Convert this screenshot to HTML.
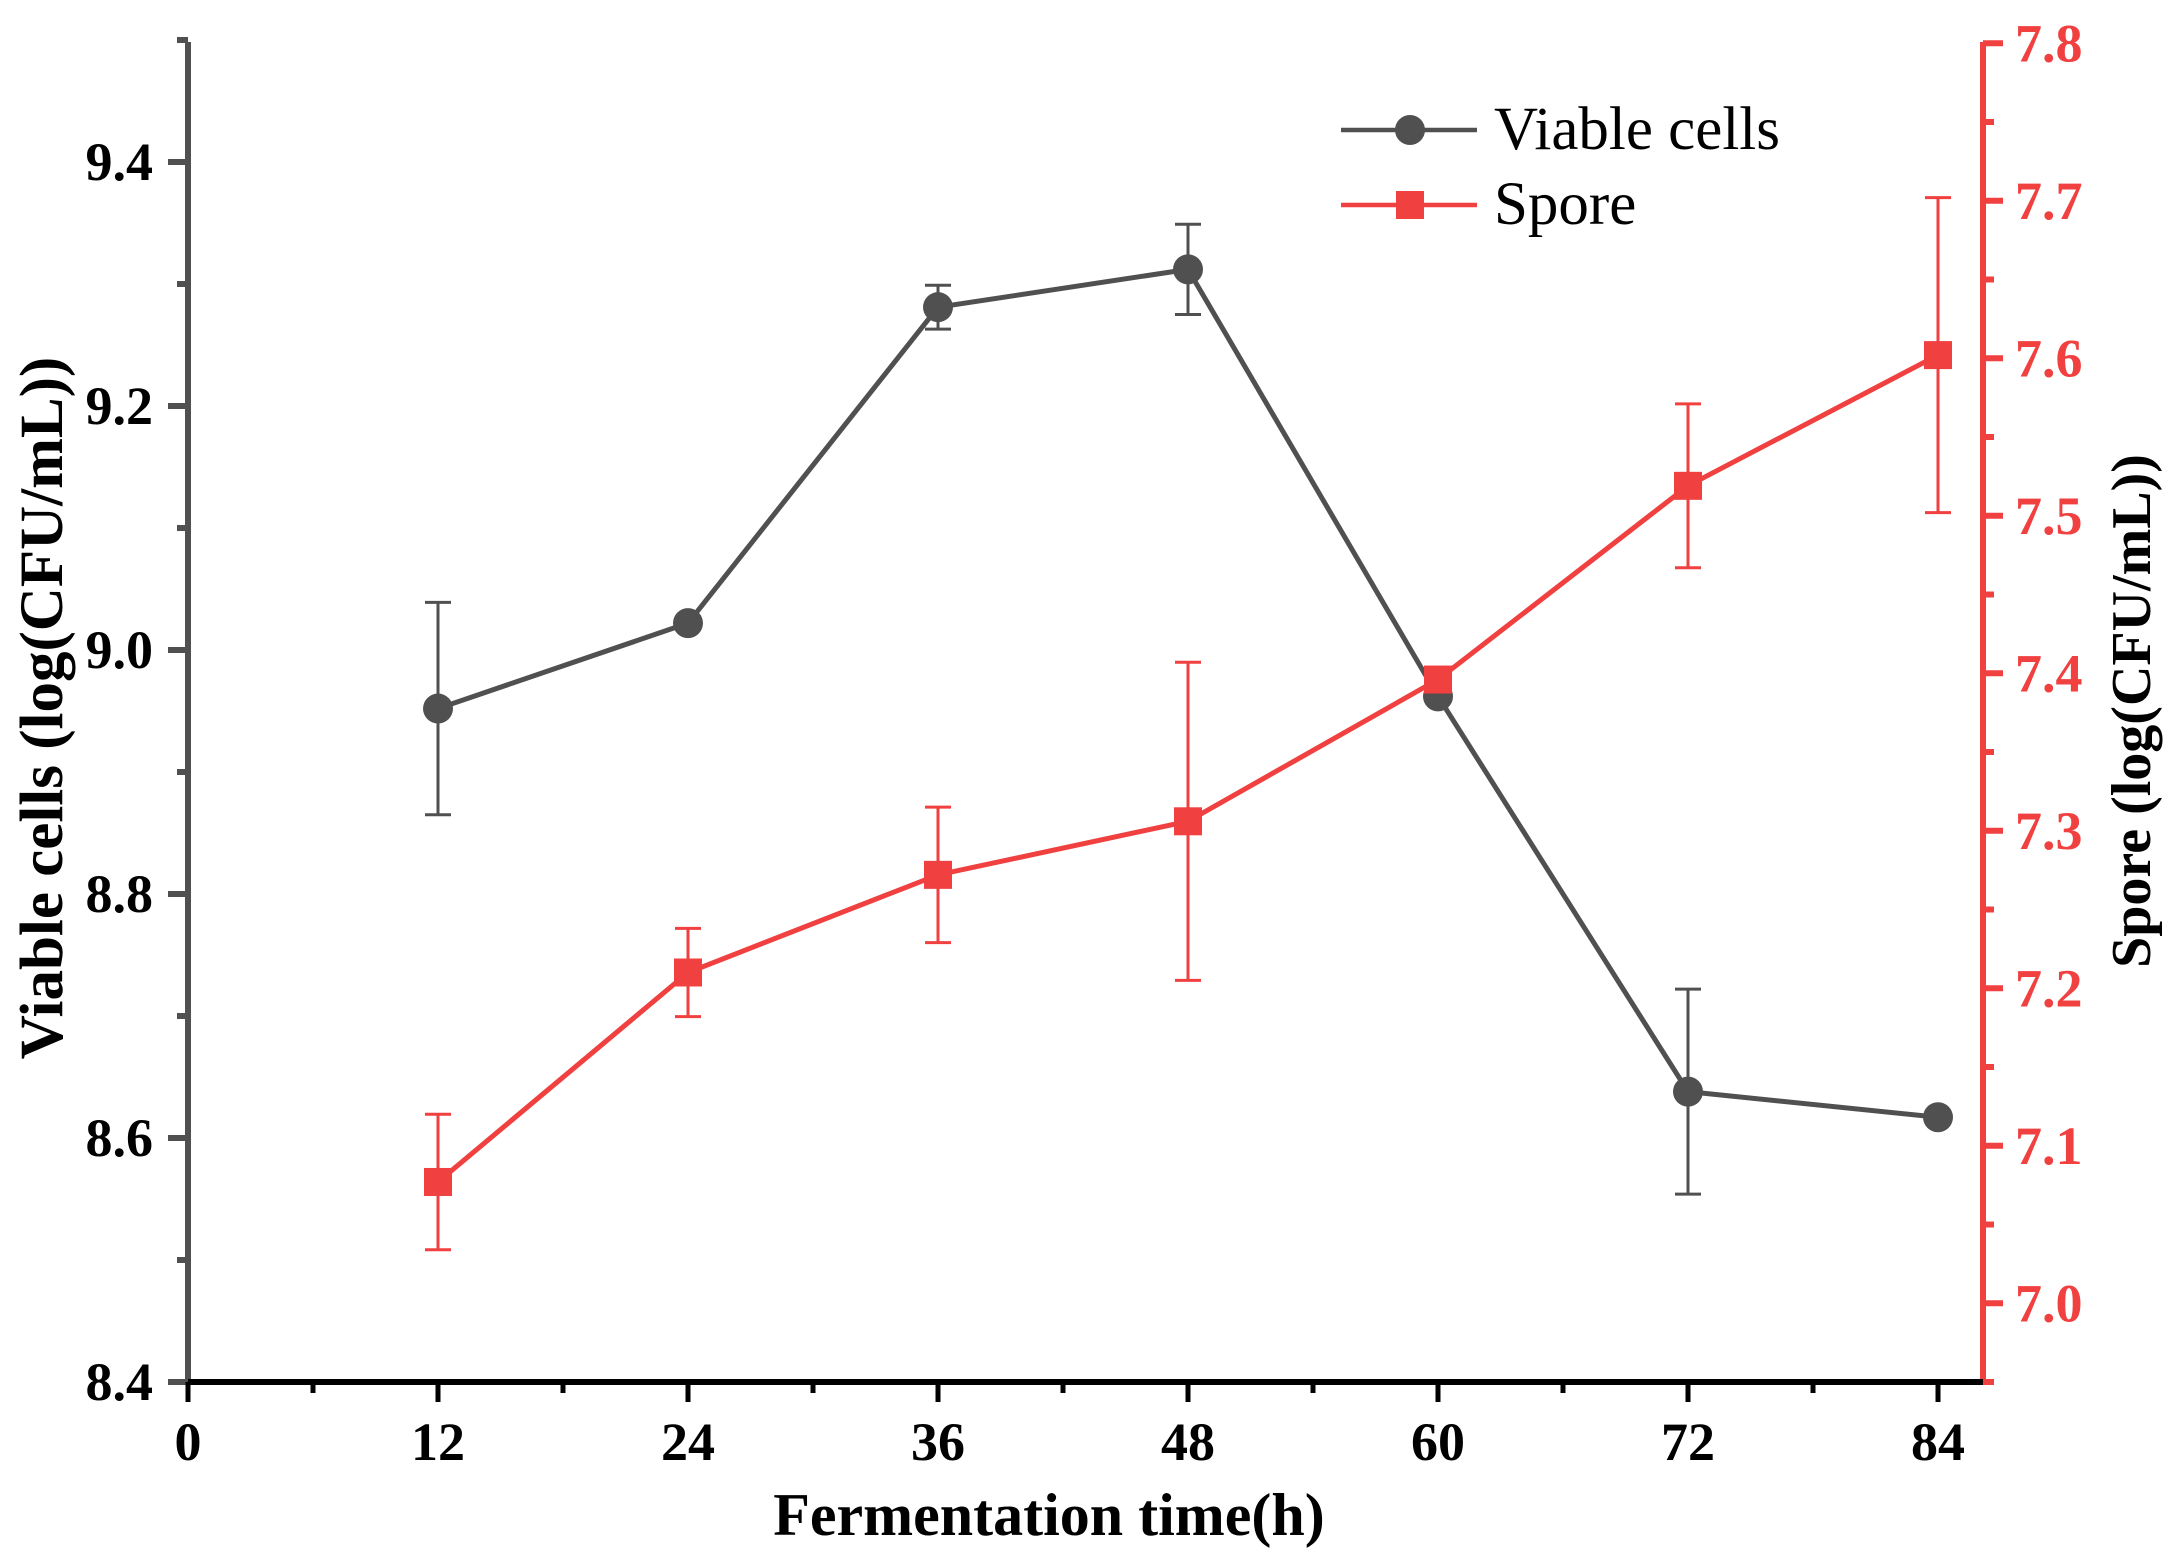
<!DOCTYPE html>
<html><head><meta charset="utf-8"><style>
html,body{margin:0;padding:0;background:#fff;}
svg{display:block;font-family:"Liberation Serif",serif;}
</style></head><body>
<svg id="chart" width="2173" height="1557" viewBox="0 0 2173 1557" xmlns="http://www.w3.org/2000/svg"></svg>
<script>
const hours = [12, 24, 36, 48, 60, 72, 84];
const viable = [8.952, 9.022, 9.281, 9.312, 8.962, 8.638, 8.617];
const viableErr = [0.087, 0.005, 0.018, 0.037, 0.003, 0.084, 0.003];
const spore = [7.077, 7.210, 7.272, 7.306, 7.396, 7.519, 7.602];
const sporeErr = [0.043, 0.028, 0.043, 0.101, 0.005, 0.052, 0.100];
const xTicks = [0, 12, 24, 36, 48, 60, 72, 84];
const leftTicks = ["8.4", "8.6", "8.8", "9.0", "9.2", "9.4"];
const rightTicks = ["7.0", "7.1", "7.2", "7.3", "7.4", "7.5", "7.6", "7.7", "7.8"];

const NS = "http://www.w3.org/2000/svg";
const svg = document.getElementById("chart");
const X0 = 188, X1 = 1983, Y0 = 1382, Y1 = 42;
const xs = h => X0 + h * (250 / 12);
const yl = v => Y0 - (v - 8.4) * 1220;
const yr = v => Y0 - (v - 6.95) * 1575;
const GRAY = "#505050", RED = "#f04040";
function mk(tag, attrs, parent) {
  const e = document.createElementNS(NS, tag);
  for (const k in attrs) e.setAttribute(k, attrs[k]);
  (parent || svg).appendChild(e);
  return e;
}
function line(x1, y1, x2, y2, c, w, name) {
  const e = mk("line", {x1, y1, x2, y2, stroke: c, "stroke-width": w});
  
  
  return e;
}
function text(x, y, s, attrs, name) {
  const e = mk("text", Object.assign({x, y}, attrs));
  e.textContent = s;
  
  
  return e;
}
// axes
line(X0, Y1, X0, Y0 + 2, GRAY, 6, "left-axis");
line(X1, Y1, X1, Y0 + 2, RED, 6, "right-axis");
line(X0 - 3, Y0, X1 + 3, Y0, "#000", 6, "x-axis");
// left ticks
for (let i = 0; i <= 11; i++) {
  const v = 8.4 + i * 0.1, y = yl(v), major = i % 2 === 0;
  line(X0 - (major ? 20 : 11), y, X0, y, GRAY, 6, major ? "left-major-tick" : "left-minor-tick");
}
leftTicks.forEach(t => text(153, yl(parseFloat(t)) + 18, t, {"font-size": 54, "font-weight": "bold", "text-anchor": "end", fill: "#000"}, "left-tick-label"));
// right ticks
for (let i = 0; i <= 16; i++) {
  const v = 7.0 + i * 0.05, y = yr(v), major = i % 2 === 0;
  line(X1, y, X1 + (major ? 20 : 11), y, RED, 6, major ? "right-major-tick" : "right-minor-tick");
}
line(X1, yr(6.95), X1 + 11, yr(6.95), RED, 6, "right-minor-tick");
rightTicks.forEach(t => text(2015, yr(parseFloat(t)) + 18, t, {"font-size": 54, "font-weight": "bold", fill: RED}, "right-tick-label"));
// x ticks
for (let h = 0; h <= 84; h += 6) {
  const major = h % 12 === 0;
  line(xs(h), Y0, xs(h), Y0 + (major ? 20 : 11), "#000", 5, major ? "x-major-tick" : "x-minor-tick");
}
xTicks.forEach(h => text(xs(h), 1460, String(h), {"font-size": 54, "font-weight": "bold", "text-anchor": "middle", fill: "#000"}, "x-tick-label"));
// titles
text(1049, 1535, "Fermentation time(h)", {"font-size": 60, "font-weight": "bold", "text-anchor": "middle", fill: "#000"}, "x-axis-title");
text(0, 0, "Viable cells (log(CFU/mL))", {"font-size": 61, "font-weight": "bold", "text-anchor": "middle", fill: "#000", transform: "translate(62,708) rotate(-90)"}, "left-axis-title");
text(0, 0, "Spore (log(CFU/mL))", {"font-size": 56, "font-weight": "bold", "text-anchor": "middle", fill: "#000", transform: "translate(2150,711) rotate(-90)"}, "right-axis-title");
// series
function series(vals, errs, yf, color, shape, name) {
  const pts = hours.map((h, i) => xs(h) + "," + yf(vals[i])).join(" ");
  const pl = mk("polyline", {points: pts, fill: "none", stroke: color, "stroke-width": 5});
  
  
  hours.forEach((h, i) => {
    const x = xs(h), yt = yf(vals[i] + errs[i]), yb = yf(vals[i] - errs[i]);
    line(x, yt, x, yb, color, 3, name + "-error-bar");
    line(x - 13, yt, x + 13, yt, color, 3, name + "-error-cap");
    line(x - 13, yb, x + 13, yb, color, 3, name + "-error-cap");
    let m;
    if (shape === "circle") m = mk("circle", {cx: x, cy: yf(vals[i]), r: 15, fill: color});
    else m = mk("rect", {x: x - 14, y: yf(vals[i]) - 14, width: 28, height: 28, fill: color});
    
    
  });
}
series(viable, viableErr, yl, GRAY, "circle", "viable-cells");
series(spore, sporeErr, yr, RED, "square", "spore");
// legend
line(1341, 130, 1477, 130, GRAY, 4.5, "legend-viable-line");
let c = mk("circle", {cx: 1410, cy: 130, r: 15, fill: GRAY});


text(1494, 149, "Viable cells", {"font-size": 61, fill: "#000"}, "legend-viable-label");
line(1341, 205, 1477, 205, RED, 4.5, "legend-spore-line");
let r = mk("rect", {x: 1396, y: 191, width: 28, height: 28, fill: RED});


text(1494, 224, "Spore", {"font-size": 61, fill: "#000"}, "legend-spore-label");
</script>
</body></html>
